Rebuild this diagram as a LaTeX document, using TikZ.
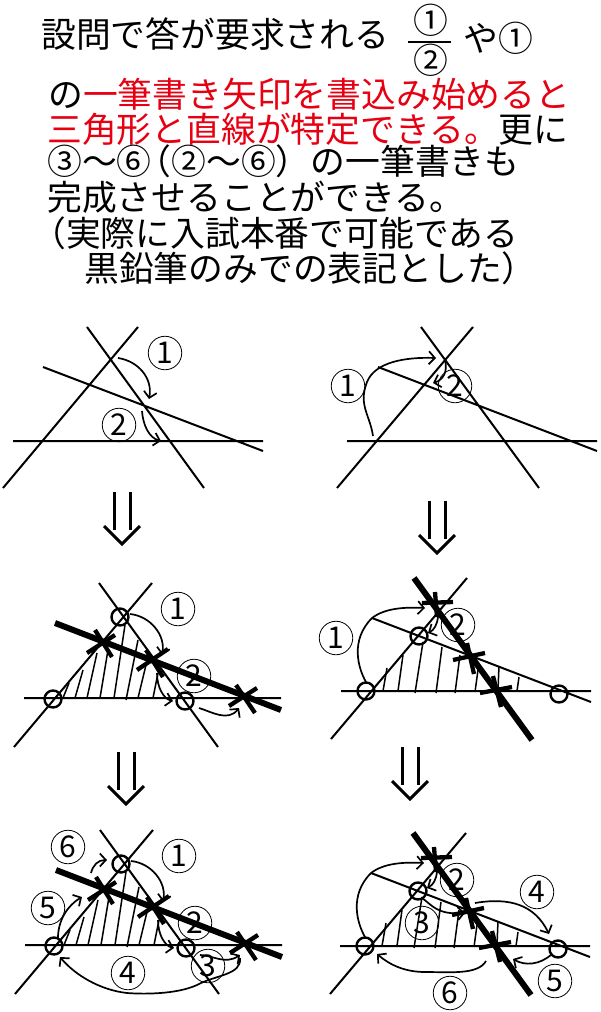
\documentclass[tikz,border=0pt]{standalone}
\usepackage{fontspec}
\setmainfont{Noto Sans CJK JP}
\usetikzlibrary{arrows.meta}
\definecolor{hilite}{RGB}{230,0,18}
\begin{document}
\begin{tikzpicture}[x=1pt,y=-1pt]
  \tikzstyle{arrow} = [line width=1.7pt,->,>={Straight Barb[length=6pt,width=13pt]}]
  \tikzset{txt/.style = {anchor=base west, inner sep=0pt, font=\fontsize{34.8}{36}\selectfont}, }
  \tikzset{num/.style = {circle, draw, line width=0.8pt, inner sep=0pt, minimum size=33.5pt, font=\fontsize{30}{30}\selectfont}, }
  \tikzset{ln/.style = {line width=2pt}, }
  \tikzset{fat/.style = {line width=6pt}, }
  \tikzset{crs/.style = {line width=4.3pt}, }
  \tikzset{hatch/.style = {line width=1.5pt}, }
  \tikzset{ring/.style = {circle, draw, line width=2.4pt, inner sep=0pt, minimum size=17pt}, }
  \tikzset{down/.style = {line width=3pt}, }
  \useasboundingbox (0,0) rectangle (600,1012);

  % text
  \node[txt] (t1) at (41,47) {設問で答が要求される};
  \node[txt] (up) at (413,33) {①};
  \node[txt] (lo) at (413,73) {②};
  \coordinate (fa) at (408,42);
  \coordinate (fb) at (451,42);
  \draw[line width=1.5pt] (fa) -- (fb);
  \node[txt] (t1b) at (463,51) {や①};
  \node[txt] (t2) at (48,107) {の{\color{hilite}一筆書き矢印を書込み始めると}};
  \node[txt] (t3) at (47,142) {{\color{hilite}三角形と直線が特定できる。}更に};
  \node[txt] (t4) at (47,174) {③〜⑥\kern-15pt（②〜⑥）の一筆書きも};
  \node[txt] (t5) at (47,210) {完成させることができる。};
  \node[txt] (t6) at (31,246) {（実際に入試本番で可能である};
  \node[txt] (t7) at (84,281) {黒鉛筆のみでの表記とした）};

  % down arrows
  \foreach \n/\x/\y in {da/122/492,db/437/501,dc/126/752,dd/410/747} {
    \begin{scope}[shift={(\x,\y)}]
      \coordinate (\n l) at (-8,0);
      \coordinate (\n m) at (-8,38);
      \coordinate (\n r) at (8,0);
      \coordinate (\n s) at (8,38);
      \coordinate (\n t) at (0,52);
      \coordinate (\n u) at (-18,34);
      \coordinate (\n v) at (18,34);
      \draw[down] (\n l) -- (\n m);
      \draw[down] (\n r) -- (\n s);
      \draw[down] (\n u) -- (\n t) -- (\n v);
    \end{scope}
  }

  % first row, left
  \coordinate (a1) at (3,488);
  \coordinate (a2) at (138,327);
  \coordinate (b1) at (87,327);
  \coordinate (b2) at (204,488);
  \coordinate (c1) at (43,367);
  \coordinate (c2) at (263,451);
  \coordinate (d1) at (13,441);
  \coordinate (d2) at (263,441);
  \path[draw,ln]
  (a1) -- (a2)
  (b1) -- (b2)
  (c1) -- (c2)
  (d1) -- (d2);
  \node[num] (n1) at (165,353) {1};
  \node[num] (n2) at (119,425) {2};
  \coordinate (e1) at (118,358);
  \coordinate (e2) at (149,399);
  \coordinate (e3) at (142,411);
  \coordinate (e4) at (161,441);
  \draw[arrow] (e1) .. controls (138,361) and (153,378) .. (e2);
  \draw[arrow] (e3) .. controls (143,425) and (149,438) .. (e4);

  % first row, right
  \coordinate (f1) at (337,488);
  \coordinate (f2) at (473,327);
  \coordinate (g1) at (421,327);
  \coordinate (g2) at (539,488);
  \coordinate (h1) at (378,367);
  \coordinate (h2) at (597,451);
  \coordinate (i1) at (347,441);
  \coordinate (i2) at (597,441);
  \path[draw,ln]
  (f1) -- (f2)
  (g1) -- (g2)
  (h1) -- (h2)
  (i1) -- (i2);
  \node[num] (m1) at (348,386) {1};
  \node[num] (m2) at (455,386) {2};
  \coordinate (j1) at (373,436);
  \coordinate (j2) at (436,358);
  \coordinate (j3) at (445,360);
  \coordinate (j4) at (433,383);
  \draw[arrow] (j1) .. controls (370,415) and (358,405) .. (367,382)
    .. controls (375,362) and (405,357) .. (j2);
  \draw[arrow] (j3) .. controls (448,372) and (443,380) .. (j4);

  % left column, lower rows
  \foreach \p/\dx/\dy in {c/0/0,e/1/247} {
    \begin{scope}[shift={(\dx,\dy)}]
      \coordinate (\p a1) at (14,747);
      \coordinate (\p a2) at (152,583);
      \coordinate (\p b1) at (99,583);
      \coordinate (\p b2) at (218,747);
      \coordinate (\p d1) at (24,698);
      \coordinate (\p d2) at (281,698);
      \coordinate (\p f1) at (55,623);
      \coordinate (\p f2) at (281,710);
      \path[draw,ln]
      (\p a1) -- (\p a2)
      (\p b1) -- (\p b2)
      (\p d1) -- (\p d2);
      \draw[fat] (\p f1) -- (\p f2);
      \foreach \q/\xa/\ya/\xb/\yb in {x/87/653/115/635,y/95/630/112/657,z/137/670/168/649,u/146/650/163/677,v/229/706/257/688,w/236/685/255/713} {
        \coordinate (\p\q1) at (\xa,\ya);
        \coordinate (\p\q2) at (\xb,\yb);
        \draw[crs] (\p\q1) -- (\p\q2);
      }
      \foreach \xa/\ya/\xb/\yb in {63/698/69/683,75/698/83/670,87/698/97/653,100/698/108/650,114/698/125/625,126/700/138/640,138/698/146/665,153/698/158/673} {
        \draw[hatch] (\xa,\ya) -- (\xb,\yb);
      }
      \node[ring] (\p r1) at (120,617) {};
      \node[ring] (\p r2) at (53,699) {};
      \node[ring] (\p r3) at (185,701) {};
      \node[num] (\p n1) at (178,609) {1};
      \node[num] (\p n2) at (194,676) {2};
      \coordinate (\p s1) at (130,614);
      \coordinate (\p s2) at (162,655);
      \coordinate (\p s3) at (157,673);
      \coordinate (\p s4) at (173,701);
      \draw[arrow] (\p s1) .. controls (150,616) and (166,635) .. (\p s2);
      \draw[arrow] (\p s3) .. controls (157,688) and (164,699) .. (\p s4);
    \end{scope}
  }
  \coordinate (k1) at (199,708);
  \coordinate (k2) at (239,708);
  \draw[arrow] (k1) .. controls (212,712) and (228,722) .. (k2);
  \coordinate (k3) at (200,955);
  \coordinate (k4) at (240,955);
  \draw[arrow] (k3) .. controls (212,955) and (225,965) .. (k4);
  \node[num] (en3) at (208,966) {3};
  \node[num] (en4) at (128,973) {4};
  \node[num] (en5) at (48,908) {5};
  \node[num] (en6) at (68,847) {6};
  \coordinate (l1) at (240,958);
  \coordinate (l2) at (60,957);
  \draw[arrow] (l1) .. controls (242,975) and (215,975) .. (197,985)
    .. controls (175,995) and (140,994) .. (127,993)
    .. controls (100,990) and (75,975) .. (l2);
  \coordinate (l3) at (58,938);
  \coordinate (l4) at (82,897);
  \draw[arrow] (l3) .. controls (58,920) and (68,905) .. (l4);
  \coordinate (l5) at (91,873);
  \coordinate (l6) at (107,860);
  \draw[arrow] (l5) .. controls (93,865) and (98,860) .. (l6);

  % right column, lower rows
  \foreach \p/\dx/\dy in {d/0/0,f/-1/255} {
    \begin{scope}[shift={(\dx,\dy)}]
      \coordinate (\p a1) at (331,739);
      \coordinate (\p a2) at (467,578);
      \coordinate (\p f1) at (414,578);
      \coordinate (\p f2) at (532,740);
      \coordinate (\p c1) at (372,618);
      \coordinate (\p c2) at (591,702);
      \coordinate (\p d1) at (341,691);
      \coordinate (\p d2) at (591,691);
      \path[draw,ln]
      (\p a1) -- (\p a2)
      (\p c1) -- (\p c2)
      (\p d1) -- (\p d2);
      \draw[fat] (\p f1) -- (\p f2);
      \foreach \q/\xa/\ya/\xb/\yb in {x/422/603/453/602,y/435/592/437/617,z/453/660/485/653,u/467/643/474/674,v/480/693/512/687,w/493/676/501/707} {
        \coordinate (\p\q1) at (\xa,\ya);
        \coordinate (\p\q2) at (\xb,\yb);
        \draw[crs] (\p\q1) -- (\p\q2);
      }
      \foreach \xa/\ya/\xb/\yb in {383/691/387/668,398/691/403/655,415/693/423/642,436/693/442/647,455/693/460/655,475/692/478/670,498/690/499/666,517/691/519/677} {
        \draw[hatch] (\xa,\ya) -- (\xb,\yb);
      }
      \node[ring] (\p r1) at (419,636) {};
      \node[ring] (\p r2) at (366,691) {};
      \node[ring] (\p r3) at (559,694) {};
      \node[num] (\p n2) at (458,625) {2};
      \coordinate (\p s1) at (366,682);
      \coordinate (\p s2) at (425,608);
      \coordinate (\p s3) at (438,617);
      \coordinate (\p s4) at (428,633);
      \draw[arrow] (\p s1) .. controls (358,668) and (350,640) .. (372,618)
        .. controls (385,608) and (405,607) .. (\p s2);
      \draw[arrow] (\p s3) .. controls (437,625) and (434,630) .. (\p s4);
    \end{scope}
  }
  \node[num] (dn1) at (336,638) {1};
  \node[num] (fn3) at (422,923) {3};
  \node[num] (fn4) at (537,892) {4};
  \node[num] (fn5) at (555,981) {5};
  \node[num] (fn6) at (450,993) {6};
  \coordinate (o1) at (422,898);
  \coordinate (o2) at (465,913);
  \draw[arrow] (o1) .. controls (432,905) and (437,915) .. (o2);
  \coordinate (o3) at (475,903);
  \coordinate (o4) at (549,934);
  \draw[arrow] (o3) .. controls (510,897) and (535,905) .. (o4);
  \coordinate (o5) at (552,954);
  \coordinate (o6) at (513,959);
  \draw[arrow] (o5) .. controls (540,965) and (525,966) .. (o6);
  \coordinate (o7) at (486,961);
  \coordinate (o8) at (377,954);
  \draw[arrow] (o7) .. controls (478,975) and (450,972) .. (425,972)
    .. controls (405,972) and (390,965) .. (o8);
\end{tikzpicture}
\end{document}
